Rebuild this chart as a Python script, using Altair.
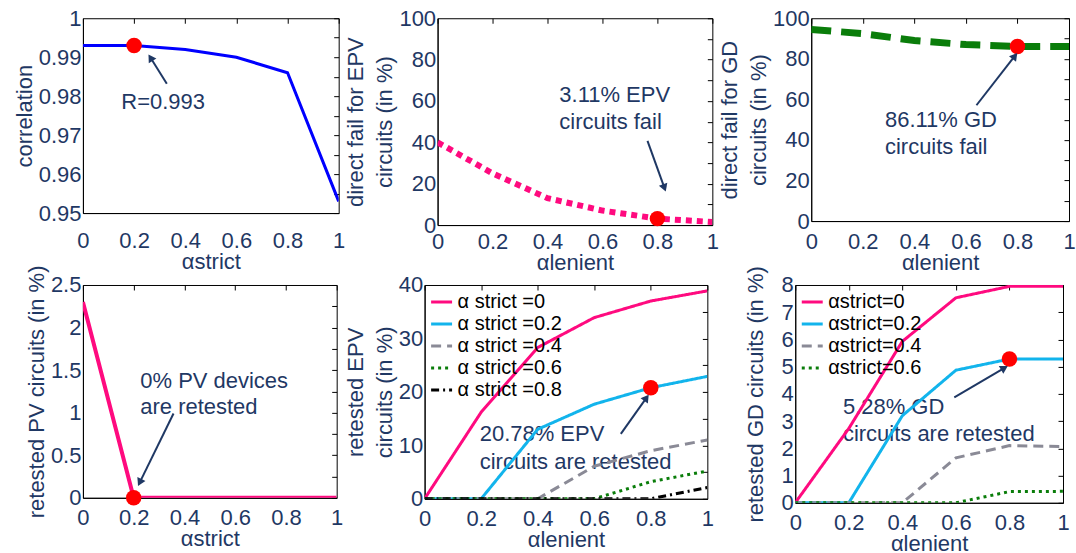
import math
import altair as alt
import pandas as pd

# threshold sweep values
alpha = [0, 0.2, 0.4, 0.6, 0.8, 1.0]
x_ticks = [0, 0.2, 0.4, 0.6, 0.8, 1]

correlation = [0.993, 0.993, 0.992, 0.990, 0.986, 0.953]
epv_direct_fail = [40, 25, 13, 7, 3.11, 1.5]
gd_direct_fail = [94.5, 92.4, 89.0, 87.0, 86.11, 86.1]
pv_retested = [2.3, 0, 0, 0, 0, 0]

strict_levels = ["0", "0.2", "0.4", "0.6", "0.8"]
epv_retested = {
    "0": [0, 16.2, 28.3, 33.9, 37.0, 38.9],
    "0.2": [0, 0, 13.0, 17.7, 20.78, 22.9],
    "0.4": [0, 0, 0, 6.1, 9.0, 11.0],
    "0.6": [0, 0, 0, 0, 3.2, 5.2],
    "0.8": [0, 0, 0, 0, 0, 2.1],
}
gd_strict_levels = ["0", "0.2", "0.4", "0.6"]
gd_retested = {
    "0": [0, 2.73, 5.93, 7.53, 7.95, 7.95],
    "0.2": [0, 0, 3.2, 4.87, 5.28, 5.28],
    "0.4": [0, 0, 0, 1.65, 2.1, 2.07],
    "0.6": [0, 0, 0, 0, 0.41, 0.42],
}

# y tick labels and the finer inner box ticks of each panel
corr_labels = [0.95, 0.96, 0.97, 0.98, 0.99, 1.0]
corr_minor = [0.95, 0.955, 0.96, 0.965, 0.97, 0.975, 0.98, 0.985, 0.99, 0.995, 1.0]
pct_labels = [0, 20, 40, 60, 80, 100]
pct_minor = [0, 10, 20, 30, 40, 50, 60, 70, 80, 90, 100]
pv_labels = [0, 0.5, 1, 1.5, 2, 2.5]
pv_minor = [0, 0.25, 0.5, 0.75, 1, 1.25, 1.5, 1.75, 2, 2.25, 2.5]
epv_labels = [0, 10, 20, 30, 40]
epv_minor = [0, 5, 10, 15, 20, 25, 30, 35, 40]
gd_labels = [0, 1, 2, 3, 4, 5, 6, 7, 8]

NAVY = "#1f3864"
RED = "#ff0000"
PINK = "#ff0a7f"
SKY = "#12b4ec"
GREY = "#8a8a96"
GREEN = "#0a7d0a"
FONT = "Liberation Sans"
TICK = 5

series_colors = [PINK, SKY, GREY, GREEN, "black"]
series_dashes = [[1, 0], [1, 0], [10, 6], [3, 4], [8, 4, 2, 4]]


def encodings(xtitle, ytitle, ydom, yvals, xpad, ypad):
    xs = alt.Scale(domain=[0, 1], nice=False, zero=False)
    ys = alt.Scale(domain=ydom, nice=False, zero=False)
    x = alt.X("a:Q", scale=xs,
              axis=alt.Axis(values=x_ticks, format="~r", title=xtitle,
                            labelPadding=xpad, titlePadding=0))
    y = alt.Y("v:Q", scale=ys,
              axis=alt.Axis(values=yvals, format="~r", title=ytitle,
                            labelPadding=2, titlePadding=ypad))
    xp = alt.X("a:Q", scale=xs, axis=None)
    yp = alt.Y("v:Q", scale=ys, axis=None)
    return x, y, xp, yp, xs, ys


def box_ticks(df, xs, ys, minor):
    """Short inward ticks along the top and right edges of the frame."""
    tick_axis = dict(title=None, labels=False, domain=False, ticks=True,
                     tickSize=TICK, tickColor="black", tickWidth=1, offset=-TICK)
    return alt.Chart(df).mark_point(opacity=0).encode(
        x=alt.X("a:Q", scale=xs, axis=alt.Axis(orient="top", values=x_ticks, **tick_axis)),
        y=alt.Y("v:Q", scale=ys, axis=alt.Axis(orient="right", values=minor, **tick_axis)),
    )


def overlays(x, y, ydom, w, h, note, arrow, dot):
    nx, ny, step, lines = note
    note_df = pd.DataFrame({"a": [nx] * len(lines),
                            "v": [ny - i * step for i in range(len(lines))],
                            "t": lines})
    text = alt.Chart(note_df).mark_text(
        align="left", baseline="middle", fontSize=22, color=NAVY, font=FONT
    ).encode(x=x, y=y, text="t:N")

    (tx, ty), (hx, hy) = arrow
    arr_df = pd.DataFrame({"a": [tx], "v": [ty], "a2": [hx], "v2": [hy]})
    shaft = alt.Chart(arr_df).mark_rule(color=NAVY, strokeWidth=2).encode(
        x=x, y=y, x2="a2:Q", y2="v2:Q")
    dx = (hx - tx) * w
    dy = -(hy - ty) / (ydom[1] - ydom[0]) * h
    ang = math.degrees(math.atan2(dx, -dy)) % 360
    head_df = pd.DataFrame({"a": [hx], "v": [hy]})
    head = alt.Chart(head_df).mark_point(
        shape="triangle", filled=True, color=NAVY, size=80, angle=ang, opacity=1
    ).encode(x=x, y=y)

    dot_df = pd.DataFrame({"a": [dot[0]], "v": [dot[1]]})
    marker = alt.Chart(dot_df).mark_circle(color=RED, size=240, opacity=1).encode(x=x, y=y)
    return text, shaft, head, marker


def single_panel(values, style, xtitle, ytitle, ydom, yvals, minor, w, h, note, arrow,
                 dot, xpad=6, ypad=2):
    x, y, xp, yp, xs, ys = encodings(xtitle, ytitle, ydom, yvals, xpad, ypad)
    df = pd.DataFrame({"a": alpha, "v": values})
    line = alt.Chart(df).mark_line(clip=True, **style).encode(x=x, y=y)
    text, shaft, head, marker = overlays(xp, yp, ydom, w, h, note, arrow, dot)
    return (
        alt.layer(line, box_ticks(df, xs, ys, minor), text, marker, shaft, head)
        .resolve_axis(x="independent", y="independent")
        .properties(width=w, height=h)
    )


def multi_panel(table, levels, label_expr, xtitle, ytitle, ydom, yvals, minor, w, h,
                note, arrow, dot, xpad=6, ypad=2, legend_offset=5):
    x, y, xp, yp, xs, ys = encodings(xtitle, ytitle, ydom, yvals, xpad, ypad)
    rows = []
    for s in levels:
        for a, v in zip(alpha, table[s]):
            rows.append({"a": a, "v": v, "s": s})
    df = pd.DataFrame(rows)
    n = len(levels)
    legend = alt.Legend(orient="top-left", offset=legend_offset, padding=0, title=None,
                        labelExpr=label_expr, labelFontSize=20, labelColor="black",
                        labelFont=FONT, symbolType="stroke", symbolSize=440,
                        symbolStrokeWidth=3, rowPadding=0, labelLimit=300)
    line = alt.Chart(df).mark_line(clip=True, strokeWidth=3).encode(
        x=x, y=y,
        color=alt.Color("s:N", scale=alt.Scale(domain=levels, range=series_colors[:n]),
                        legend=legend),
        strokeDash=alt.StrokeDash("s:N", scale=alt.Scale(domain=levels,
                                                         range=series_dashes[:n]),
                                  legend=legend),
    )
    text, shaft, head, marker = overlays(xp, yp, ydom, w, h, note, arrow, dot)
    return (
        alt.layer(text, line, box_ticks(df, xs, ys, minor), marker, shaft, head)
        .resolve_axis(x="independent", y="independent")
        .properties(width=w, height=h)
    )


p1 = single_panel(correlation, {"color": "#0000ff", "strokeWidth": 3},
                  "αstrict", "correlation", [0.95, 1.0], corr_labels, corr_minor,
                  256, 195,
                  (0.15, 0.9785, 0.0, ["R=0.993"]),
                  ((0.328, 0.9832), (0.267, 0.9896)), (0.2, 0.993), xpad=17)

p2 = single_panel(epv_direct_fail,
                  {"color": PINK, "strokeWidth": 6, "strokeDash": [6, 5]},
                  "αlenient", ["direct fail for EPV", "circuits (in %)"], [0, 100],
                  pct_labels, pct_minor, 275, 207,
                  (0.443, 62.9, 13.2, ["3.11% EPV", "circuits fail"]),
                  ((0.764, 40.7), (0.824, 18.6)), (0.8, 3.11), xpad=6)

p3 = single_panel(gd_direct_fail,
                  {"color": GREEN, "strokeWidth": 7, "strokeDash": [20, 10]},
                  "αlenient", ["direct fail for GD", "circuits (in %)"], [0, 100],
                  pct_labels, pct_minor, 258, 203,
                  (0.286, 49.9, 13.6, ["86.11% GD", "circuits fail"]),
                  ((0.641, 57.1), (0.787, 80.9)), (0.8, 86.11), xpad=10)

p4 = single_panel(pv_retested, {"color": PINK, "strokeWidth": 4},
                  "αstrict", "retested PV circuits (in %)", [0, 2.5],
                  pv_labels, pv_minor, 254, 213,
                  (0.226, 1.374, 0.311, ["0% PV devices", "are retested"]),
                  ((0.357, 0.99), (0.226, 0.193)), (0.2, 0.0), xpad=10)

p5 = multi_panel(epv_retested, strict_levels, "'α strict =' + datum.label",
                 "αlenient", ["retested EPV", "circuits (in %)"], [0, 40],
                 epv_labels, epv_minor, 283, 214,
                 (0.195, 12.15, 5.2, ["20.78% EPV", "circuits are retested"]),
                 ((0.694, 12.15), (0.782, 18.7)), (0.8, 20.78), xpad=10)

p6 = multi_panel(gd_retested, gd_strict_levels, "'αstrict=' + datum.label",
                 "αlenient", "retested GD circuits (in %)", [0, 8],
                 gd_labels, gd_labels, 268, 218,
                 (0.178, 3.51, 0.99, ["5.28% GD", "circuits are retested"]),
                 ((0.594, 3.87), (0.777, 4.93)), (0.8, 5.28), xpad=10, ypad=14)

independent = dict(x="independent", y="independent", color="independent",
                   strokeDash="independent")

row1 = alt.hconcat(p1, p2, p3, spacing=99, bounds="flush").resolve_scale(**independent)
row2 = (
    alt.hconcat(p4, p5, p6, spacing=88, bounds="flush")
    .resolve_scale(**independent)
    .resolve_legend(color="independent", strokeDash="independent")
)

chart = (
    alt.vconcat(row1, row2, spacing=-10, bounds="full")
    .resolve_scale(**independent)
    .resolve_legend(color="independent", strokeDash="independent")
    .properties(padding={"left": 12, "top": 6, "right": 0, "bottom": 0},
                background="white")
    .configure_view(stroke="black", strokeWidth=1)
    .configure_axis(labelFont=FONT, labelFontSize=22, labelColor=NAVY,
                    titleFont=FONT, titleFontSize=22, titleColor=NAVY,
                    titleFontWeight="normal", titleLineHeight=29, titleLimit=400,
                    domainColor="black", ticks=False, grid=False,
                    labelFlush=False, labelOverlap=False)
)

chart.save("out.html", embed_options={"renderer": "svg", "actions": False})
